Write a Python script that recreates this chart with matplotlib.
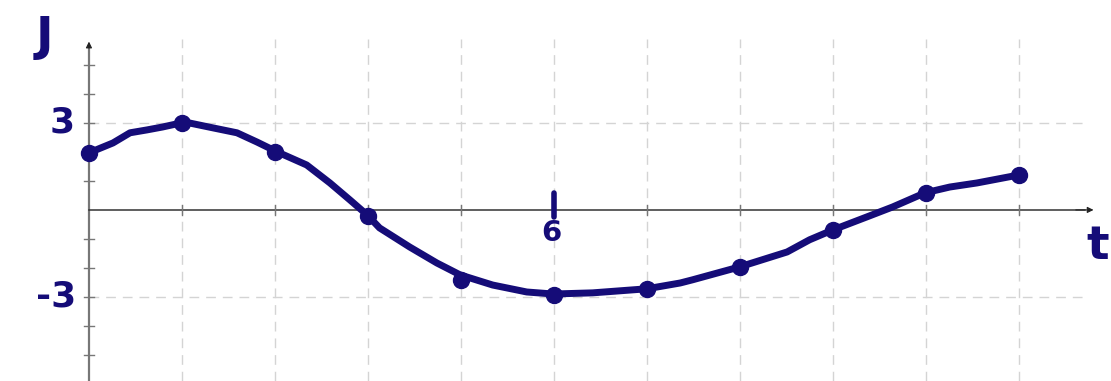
import numpy as np
import matplotlib.pyplot as plt

# hand-sketched curve J(t), read along the stroke
curve_t = [0.0, 0.31, 0.53, 0.75, 0.95, 1.24, 1.6, 1.91, 2.17, 2.43, 2.81, 3.11, 3.37, 3.59,
           3.75, 4.14, 4.49, 4.79, 5.21, 5.65, 5.99, 6.5, 7.2, 7.63, 7.79, 8.39, 9.01, 9.3,
           9.6, 10.04, 10.37, 10.79, 11.11, 11.46, 12.01]
curve_J = [1.97, 2.31, 2.66, 2.76, 2.86, 3.03, 2.83, 2.66, 2.34, 2.0, 1.55, 0.93, 0.34, -0.17,
           -0.62, -1.28, -1.83, -2.24, -2.59, -2.83, -2.9, -2.86, -2.72, -2.52, -2.41, -1.97,
           -1.45, -1.03, -0.69, -0.24, 0.1, 0.59, 0.79, 0.93, 1.21]

# sample dots on each grid column
dot_t = [0, 1.2, 2.4, 3.6, 4.8, 6.0, 7.2, 8.4, 9.6, 10.8, 12.0]
dot_J = [1.97, 3.0, 2.0, -0.2, -2.41, -2.93, -2.72, -1.97, -0.69, 0.6, 1.21]

grid_t = [1.2, 2.4, 3.6, 4.8, 6.0, 7.2, 8.4, 9.6, 10.8, 12.0]
grid_J = [3, -3]
ytick_J = [-5, -4, -3, -2, -1, 1, 2, 3, 4, 5]

ink = '#150c78'

fig = plt.figure(figsize=(11.11, 3.81), dpi=100)
ax = fig.add_axes([0, 0, 1, 1])
ax.set_xlim(-1.148, 13.19)
ax.set_ylim(-5.90, 7.24)
ax.axis('off')

# grid
for t in grid_t:
    ax.plot([t, t], [-5.9, 5.9], color='#d4d4d4', lw=1, ls=(0, (7, 5)), zorder=1)
for j in grid_J:
    ax.plot([0, 12.9], [j, j], color='#d4d4d4', lw=1, ls=(0, (7, 5)), zorder=1)

# axes with arrows
ax.plot([0, 0], [-5.9, 5.7], color='#777777', lw=1.6, zorder=2)
ax.annotate('', xy=(0, 5.9), xytext=(0, 5.5),
            arrowprops=dict(arrowstyle='-|>', color='#222222', lw=0.8, mutation_scale=9))
ax.plot([0, 12.85], [0, 0], color='#333333', lw=1.1, zorder=2)
ax.annotate('', xy=(13.0, 0), xytext=(12.7, 0),
            arrowprops=dict(arrowstyle='-|>', color='#222222', lw=0.8, mutation_scale=9))

# small tick marks
for j in ytick_J:
    ax.plot([-0.065, 0.065], [j, j], color='#777777', lw=1, zorder=2)
for t in grid_t:
    ax.plot([t, t], [-0.17, 0.17], color='#777777', lw=1, zorder=2)

# the curve and its dots
ax.plot(curve_t, curve_J, color=ink, lw=5, solid_capstyle='round',
        solid_joinstyle='round', zorder=4)
ax.plot(dot_t, dot_J, 'o', color=ink, ms=11.5, zorder=5)

# hand labels
ax.plot([6.0, 6.0], [0.59, -0.24], color=ink, lw=4, solid_capstyle='round', zorder=5)
ax.text(5.97, -0.78, '6', color=ink, fontsize=21, fontweight='bold', ha='center', va='center')
ax.text(-0.35, 3.0, '3', color=ink, fontsize=26, fontweight='bold', ha='center', va='center')
ax.text(-0.42, -3.0, '-3', color=ink, fontsize=26, fontweight='bold', ha='center', va='center')
ax.text(-0.58, 5.95, 'J', color=ink, fontsize=34, fontweight='bold', ha='center', va='center')
ax.text(13.02, -1.25, 't', color=ink, fontsize=34, fontweight='bold', ha='center', va='center')

fig.savefig('out.png', dpi=100)
